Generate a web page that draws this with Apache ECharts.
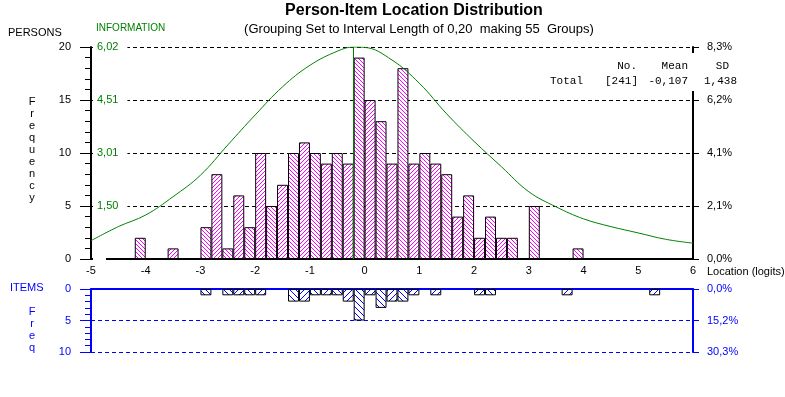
<!DOCTYPE html>
<html>
<head>
<meta charset="utf-8">
<script src="https://cdn.jsdelivr.net/npm/echarts@6/dist/echarts.min.js"></script>
<style>
  html, body { margin: 0; padding: 0; background: #fff; }
  #main { width: 785px; height: 397px; }
</style>
</head>
<body>
<div id="main"></div>
<script>
// person and item counts per 0.2 logit group, -5 .. 6 (55 groups)
var personCounts = [0, 0, 0, 0, 2, 0, 0, 1, 0, 0,
  3, 8, 1, 6, 3, 10, 5, 7, 10, 11,
  10, 9, 10, 9, 19, 15, 13, 9, 18, 9,
  10, 9, 8, 4, 6, 2, 4, 2, 2, 0,
  5, 0, 0, 0, 1, 0, 0, 0, 0, 0,
  0, 0, 0, 0, 0];
var itemCounts = [0, 0, 0, 0, 0, 0, 0, 0, 0, 0,
  1, 0, 1, 1, 1, 1, 0, 0, 2, 2,
  1, 1, 1, 2, 5, 1, 3, 2, 2, 1,
  0, 1, 0, 0, 0, 1, 1, 0, 0, 0,
  0, 0, 0, 1, 0, 0, 0, 0, 0, 0,
  0, 1, 0, 0, 0];

// test information curve
var infoX = [-5, -4.5, -4, -3.5, -3, -2.5, -2, -1.5, -1, -0.5, -0.2, 0, 0.5, 1, 1.5, 2, 2.5, 3, 3.5, 4, 4.5, 5, 5.5, 6];
var infoY = [0.52, 0.92, 1.25, 1.77, 2.38, 3.24, 4.09, 4.89, 5.5, 5.9, 6.02, 6.01, 5.65, 4.99, 4.12, 3.34, 2.62, 1.91, 1.48, 1.14, 0.92, 0.74, 0.56, 0.45];
var infoPeak = -0.2;

var infoTickLabels = ['', '1,50', '3,01', '4,51', '6,02'];
var personPctLabels = ['0,0%', '2,1%', '4,1%', '6,2%', '8,3%'];
var itemPctLabels = ['0,0%', '15,2%', '30,3%'];

var FONT = '"Liberation Sans", Arial, sans-serif';
var MONO = '"Liberation Mono", "DejaVu Sans Mono", monospace';

// hatch tiles
function hatch(color, size, back) {
  var c = document.createElement('canvas');
  c.width = size; c.height = size;
  var g = c.getContext('2d');
  g.fillStyle = '#fff';
  g.fillRect(0, 0, size, size);
  g.fillStyle = color;
  for (var k = 0; k < size; k++) {
    g.fillRect(back ? k : size - 1 - k, k, 1, 1);
  }
  return { image: c, repeat: 'repeat' };
}
var pinkBack = hatch('#ff00ff', 4, true);
var pinkFwd = hatch('#ff00ff', 4, false);
var blueBack = hatch('#0000ff', 6, true);
var blueFwd = hatch('#0000ff', 6, false);

var bins = personCounts.map(function (v, i) { return String(i); });

function barData(list, back, fwd) {
  return list.map(function (v, i) {
    if (!v) return '-';
    return { value: v, itemStyle: { color: i % 2 ? fwd : back } };
  });
}

var infoData = infoX.map(function (x, i) { return [x, infoY[i]]; });

var chart = echarts.init(document.getElementById('main'));

var option = {
  animation: false,
  backgroundColor: '#fff',
  textStyle: { fontFamily: FONT },
  grid: [
    { left: 91, right: 92, top: 47, height: 212 },
    { left: 91, right: 92, top: 289, height: 63 }
  ],
  xAxis: [
    { type: 'category', gridIndex: 0, data: bins, show: false, boundaryGap: true },
    {
      type: 'value', gridIndex: 0, min: -5, max: 6, interval: 1, position: 'bottom',
      axisLine: { onZero: false, lineStyle: { color: '#000', width: 2 } },
      axisTick: { show: false },
      splitLine: { show: false },
      axisLabel: { color: '#000', fontSize: 11, margin: 6, fontFamily: FONT }
    },
    {
      type: 'category', gridIndex: 1, data: bins, position: 'top', boundaryGap: true,
      axisLine: { onZero: false, lineStyle: { color: '#0000ff', width: 2 } },
      axisTick: { show: false },
      axisLabel: { show: false }
    }
  ],
  yAxis: [
    {
      type: 'value', gridIndex: 0, position: 'left', min: 0, max: 20, interval: 5,
      axisLine: { show: true, onZero: false, lineStyle: { color: '#000', width: 2 } },
      axisTick: { show: true, length: 11, lineStyle: { color: '#000' } },
      minorTick: { show: true, splitNumber: 5, length: 6, lineStyle: { color: '#000' } },
      axisLabel: { color: '#000', fontSize: 11, margin: 20, fontFamily: FONT },
      splitLine: { show: true, lineStyle: { color: '#000', type: [4, 3], width: 1 } }
    },
    {
      type: 'value', gridIndex: 0, position: 'right', min: 0, max: 20, interval: 5,
      axisLine: { show: true, onZero: false, lineStyle: { color: '#000', width: 2 } },
      axisTick: { show: true, length: 6, lineStyle: { color: '#000' } },
      axisLabel: {
        color: '#000', fontSize: 11, margin: 14, fontFamily: FONT,
        formatter: function (v) { return personPctLabels[Math.round(v / 5)]; }
      },
      splitLine: { show: false }
    },
    {
      type: 'value', gridIndex: 0, position: 'left', min: 0, max: 6.02, interval: 1.505,
      axisLine: { show: false, onZero: false },
      axisTick: { show: false },
      axisLabel: {
        inside: true, color: '#008000', fontSize: 11, margin: 2, fontFamily: FONT,
        backgroundColor: '#fff', padding: [1, 9, 1, 4],
        formatter: function (v) { return infoTickLabels[Math.round(v / 1.505)] || ''; }
      },
      splitLine: { show: false }
    },
    {
      type: 'value', gridIndex: 1, position: 'left', inverse: true, min: 0, max: 10, interval: 5,
      axisLine: { show: true, onZero: false, lineStyle: { color: '#0000ff', width: 2 } },
      axisTick: { show: true, length: 11, lineStyle: { color: '#0000ff' } },
      minorTick: { show: true, splitNumber: 5, length: 6, lineStyle: { color: '#0000ff' } },
      axisLabel: { color: '#0000ff', fontSize: 11, margin: 20, fontFamily: FONT },
      splitLine: { show: true, lineStyle: { color: '#0000ff', type: [4, 3], width: 1 } }
    },
    {
      type: 'value', gridIndex: 1, position: 'right', inverse: true, min: 0, max: 10, interval: 5,
      axisLine: { show: true, onZero: false, lineStyle: { color: '#0000ff', width: 2 } },
      axisTick: { show: true, length: 6, lineStyle: { color: '#0000ff' } },
      axisLabel: {
        color: '#0000ff', fontSize: 11, margin: 14, fontFamily: FONT,
        formatter: function (v) { return itemPctLabels[Math.round(v / 5)]; }
      },
      splitLine: { show: false }
    }
  ],
  series: [
    {
      name: 'Persons', type: 'bar', xAxisIndex: 0, yAxisIndex: 0,
      barCategoryGap: '0%',
      itemStyle: { borderColor: '#000', borderWidth: 1 },
      data: barData(personCounts, pinkBack, pinkFwd)
    },
    {
      name: 'Information', type: 'line', xAxisIndex: 1, yAxisIndex: 2,
      smooth: 0.4, showSymbol: false, z: 5,
      lineStyle: { color: '#008000', width: 1 },
      data: infoData,
      markLine: {
        silent: true, symbol: 'none', label: { show: false },
        lineStyle: { color: '#008000', width: 1, type: 'solid' },
        data: [{ xAxis: infoPeak }]
      }
    },
    {
      name: 'Items', type: 'bar', xAxisIndex: 2, yAxisIndex: 3,
      barCategoryGap: '0%',
      itemStyle: { borderColor: '#000', borderWidth: 1 },
      data: barData(itemCounts, blueBack, blueFwd)
    }
  ],
  graphic: [
    { type: 'text', x: 414, y: 11, style: { text: 'Person-Item Location Distribution', font: 'bold 16px ' + FONT, fill: '#000', align: 'center', verticalAlign: 'middle' } },
    { type: 'text', x: 419, y: 29, style: { text: '(Grouping Set to Interval Length of 0,20  making 55  Groups)', font: '13px ' + FONT, fill: '#000', align: 'center', verticalAlign: 'middle' } },
    { type: 'text', x: 8, y: 33, style: { text: 'PERSONS', font: '11px ' + FONT, fill: '#000', verticalAlign: 'middle' } },
    { type: 'text', x: 96, y: 28, style: { text: 'INFORMATION', font: '10px ' + FONT, fill: '#008000', verticalAlign: 'middle' } },
    { type: 'text', x: 32, y: 96, style: { text: 'F\nr\ne\nq\nu\ne\nn\nc\ny', font: '11px ' + FONT, lineHeight: 12, fill: '#000', align: 'center', verticalAlign: 'top' } },
    { type: 'text', x: 10, y: 288, style: { text: 'ITEMS', font: '11px ' + FONT, fill: '#0000ff', verticalAlign: 'middle' } },
    { type: 'text', x: 32, y: 306, style: { text: 'F\nr\ne\nq', font: '11px ' + FONT, lineHeight: 12, fill: '#0000ff', align: 'center', verticalAlign: 'top' } },
    { type: 'text', x: 707, y: 272, style: { text: 'Location (logits)', font: '11px ' + FONT, fill: '#000', verticalAlign: 'middle' } },
    { type: 'rect', z: 100, shape: { x: 545, y: 53, width: 200, height: 38 }, style: { fill: '#fff' } },
    { type: 'text', z: 101, x: 637, y: 66, style: { text: 'No.', font: '11px ' + MONO, fill: '#000', align: 'right', verticalAlign: 'middle' } },
    { type: 'text', z: 101, x: 688, y: 66, style: { text: 'Mean', font: '11px ' + MONO, fill: '#000', align: 'right', verticalAlign: 'middle' } },
    { type: 'text', z: 101, x: 729, y: 66, style: { text: 'SD', font: '11px ' + MONO, fill: '#000', align: 'right', verticalAlign: 'middle' } },
    { type: 'text', z: 101, x: 550, y: 81, style: { text: 'Total', font: '11px ' + MONO, fill: '#000', verticalAlign: 'middle' } },
    { type: 'text', z: 101, x: 638, y: 81, style: { text: '[241]', font: '11px ' + MONO, fill: '#000', align: 'right', verticalAlign: 'middle' } },
    { type: 'text', z: 101, x: 688, y: 81, style: { text: '-0,107', font: '11px ' + MONO, fill: '#000', align: 'right', verticalAlign: 'middle' } },
    { type: 'text', z: 101, x: 737, y: 81, style: { text: '1,438', font: '11px ' + MONO, fill: '#000', align: 'right', verticalAlign: 'middle' } }
  ]
};

chart.setOption(option);
</script>
</body>
</html>
